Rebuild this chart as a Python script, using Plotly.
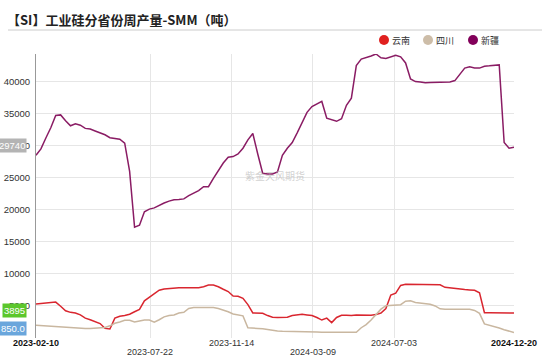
import plotly.graph_objects as go
import pandas as pd

# ---------------- data ----------------
dates = pd.date_range("2023-02-10", periods=98, freq="7D")

yunnan = [5300, 5350, 5400, 5500, 5600, 4950, 4250, 4000, 3900, 3600,
          3100, 2850, 2500, 2250, 1500, 1400, 3100, 3400, 3500, 3700,
          4100, 4450, 5800, 6350, 6900, 7450, 7650, 7750, 7800, 7850,
          7850, 7850, 7850, 7850, 8000, 8250, 8250, 8000, 7600, 7250,
          6550, 6500, 6200, 5200, 3900, 3850, 3850, 3500, 3250, 3200,
          3200, 3250, 3500, 3650, 3700, 3600, 3500, 3200, 2800, 3100,
          2400, 3200, 3550, 3550, 3500, 3600, 3550, 3500, 3550, 3650,
          3900, 4600, 6700, 7000, 8200, 8400, 8400, 8400, 8350, 8300,
          8350, 8350, 8300, 7900, 7800, 7650, 7550, 7550, 7500, 7450,
          7050, 3950, 3950, 3950, 3950, 3900, 3850, 3895]

sichuan = [2000, 1950, 1850, 1750, 1750, 1700, 1700, 1550, 1500, 1500,
           1500, 1500, 1550, 1600, 1650, 1900, 2300, 2500, 2750, 2750,
           2500, 2650, 2800, 2800, 2450, 2850, 3300, 3500, 3600, 3900,
           4000, 4600, 4750, 4750, 4750, 4750, 4750, 4600, 4400, 4100,
           3750, 3600, 3450, 1600, 1500, 1500, 1450, 1300, 1200, 1100,
           1050, 1050, 1000, 1000, 1000, 1000, 1000, 950, 900, 900,
           900, 900, 900, 900, 900, 900, 1600, 2100, 2800, 3700,
           4500, 5050, 5100, 5100, 5200, 5750, 5800, 5550, 5450, 5400,
           5250, 5000, 4550, 4500, 4500, 4500, 4500, 4500, 4500, 4300,
           3850, 2200, 2000, 1850, 1550, 1300, 1100, 850]

xinjiang = [28500, 29500, 31200, 32800, 34700, 34800, 33900, 33100, 33400, 33200,
            32700, 32600, 32300, 32000, 31700, 31250, 31100, 31000, 30400, 26000,
            17300, 17600, 19700, 20100, 20300, 20700, 21050, 21350, 21550, 21600,
            21700, 22200, 22600, 23000, 23600, 23600, 24900, 26200, 27300, 28200,
            28300, 28700, 29600, 30900, 31900, 28700, 25700, 25600, 25600, 25900,
            28500, 29600, 30500, 32000, 33600, 35200, 36100, 36450, 36900, 34300,
            34100, 33800, 34200, 36300, 37400, 42500, 43500, 43700, 44000, 44300,
            43700, 43600, 43800, 44100, 43850, 42900, 40400, 40000, 39950, 39800,
            39850, 39900, 39900, 39900, 39950, 40150, 41200, 42100, 42300, 42100,
            42100, 42400, 42450, 42500, 42600, 30500, 29600, 29740]

series_names = ["云南", "四川", "新疆"]
line_colors = ["#d9262f", "#c9b7a0", "#8a1c64"]
legend_colors = ["#e0201f", "#cdbda8", "#82005a"]

tick_dates = ["2023-02-10", "2023-07-22", "2023-11-14", "2024-03-09", "2024-07-03", "2024-12-20"]
grid_dates = ["2023-07-22", "2023-11-14", "2024-03-09", "2024-07-03"]
y_ticks = [5000, 10000, 15000, 20000, 25000, 30000, 35000, 40000]

end_values = [xinjiang[-1], yunnan[-1], sichuan[-1]]
end_texts = ["29740", "3895", "850.0"]
end_bg = ["#b4b4b4", "#5cc72c", "#6aa6dc"]

title = "【SI】工业硅分省份周产量-SMM（吨）"
watermark = "紫金天风期货"

# ---------------- geometry helpers ----------------
W, H = 550, 357
L, R, T, B = 36, 36, 54, 19
PW, PH = W - L - R, H - T - B


def px2x(px):
    return (px - L) / PW


def px2y(py):
    return (H - B - py) / PH


fig = go.Figure()
for name, vals, col in zip(series_names, [yunnan, sichuan, xinjiang], line_colors):
    fig.add_trace(go.Scatter(x=dates, y=vals, name=name, mode="lines",
                             line=dict(color=col, width=1.5), showlegend=False))

annotations = []
shapes = []

# title + underline
annotations.append(dict(text="<b>" + title + "</b>", xref="paper", yref="paper", x=px2x(5), y=px2y(19),
                        xanchor="left", yanchor="middle", showarrow=False,
                        font=dict(family="Noto Sans CJK SC", size=13, color="#222"),
                        ))
shapes.append(dict(type="line", xref="paper", yref="paper", x0=px2x(8), x1=px2x(542),
                   y0=px2y(30), y1=px2y(30), line=dict(color="#cccccc", width=1)))

# legend
leg_x = [384, 428, 473]
for name, col, cx in zip(series_names, legend_colors, leg_x):
    shapes.append(dict(type="circle", xref="paper", yref="paper",
                       xsizemode="pixel", ysizemode="pixel",
                       xanchor=px2x(cx), yanchor=px2y(40),
                       x0=-5, x1=5, y0=-5, y1=5,
                       fillcolor=col, line=dict(width=0)))
    annotations.append(dict(text=name, xref="paper", yref="paper", x=px2x(cx + 6), y=px2y(40),
                            xanchor="left", yanchor="middle", showarrow=False,
                            font=dict(family="Noto Sans CJK SC", size=9, color="#333")))

# x labels
for i, d in enumerate(tick_dates):
    first_last = i == 0 or i == len(tick_dates) - 1
    low = i in (1, 3)
    txt = f"<b>{d}</b>" if first_last else d
    annotations.append(dict(text=txt, xref="x", yref="paper", x=d,
                            y=px2y(352 if low else 343),
                            xanchor="center", yanchor="middle", showarrow=False,
                            font=dict(family="Arial", size=9,
                                      color="#111" if first_last else "#333")))

# end-value labels
for v, t, bg, ys in zip(end_values, end_texts, end_bg, [2, 3, 4]):
    annotations.append(dict(text=t, xref="paper", yref="y", x=px2x(27), y=v, yshift=ys,
                            xanchor="right", yanchor="middle", showarrow=False,
                            bgcolor=bg, borderpad=1,
                            font=dict(family="Arial", size=9.5, color="white")))

# watermark
annotations.append(dict(text=watermark, xref="paper", yref="paper", x=px2x(275), y=px2y(175),
                        xanchor="center", yanchor="middle", showarrow=False,
                        font=dict(family="Noto Sans CJK SC", size=10, color="rgba(180,180,180,0.6)")))

fig.update_layout(
    width=W, height=H,
    margin=dict(l=L, r=R, t=T, b=B),
    paper_bgcolor="white", plot_bgcolor="white",
    showlegend=False,
    annotations=annotations,
    shapes=shapes,
    xaxis=dict(type="date", range=[dates[0], dates[-1]],
               tickvals=grid_dates, showticklabels=False,
               showgrid=True, gridcolor="#e6e6e6", gridwidth=1,
               zeroline=False, showline=False, ticks=""),
    yaxis=dict(range=[0, 44300], tickvals=y_ticks, tickformat="d",
               showgrid=True, gridcolor="#e6e6e6", gridwidth=1,
               zeroline=False, showline=True, linecolor="#999999", linewidth=1,
               ticks="", ticklabelstandoff=3, automargin=False,
               tickfont=dict(family="Arial", size=9.5, color="#333")),
)

fig.write_html("out.html", config={"displayModeBar": False},
               post_script="document.body.style.margin='0';document.body.style.overflow='hidden';")
